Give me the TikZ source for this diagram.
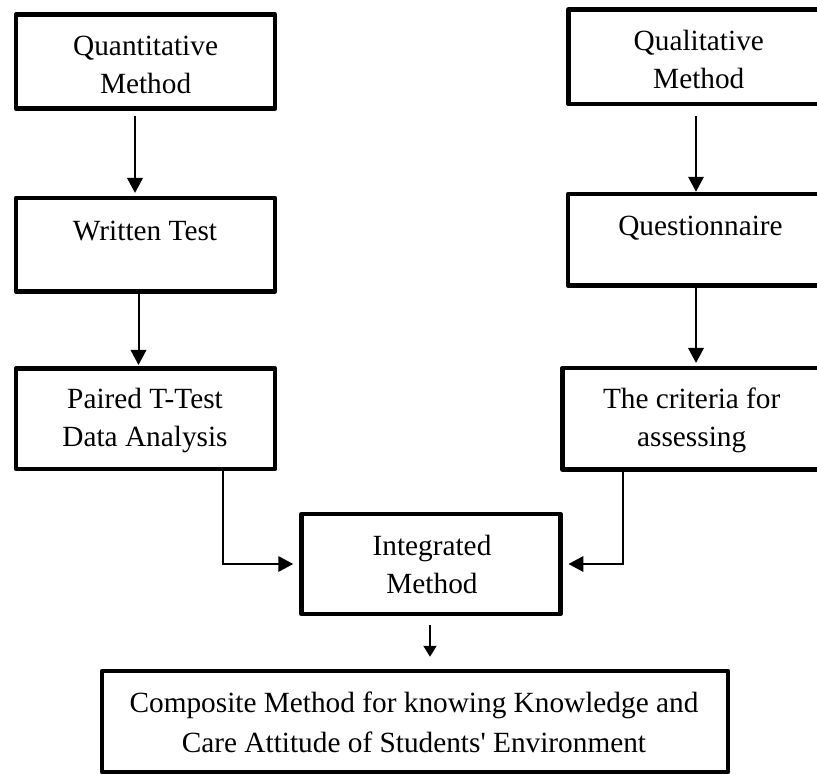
\documentclass[tikz,border=0pt]{standalone}
\usepackage{fontspec}
\setmainfont{Liberation Serif}
\usetikzlibrary{arrows.meta}
\begin{document}
\begin{tikzpicture}[x=1pt,y=-1pt,
  box/.style={draw, line width=4.5pt, line join=round, inner sep=0pt},
  txt/.style={align=center, inner sep=0pt, anchor=north, font=\fontsize{29.3pt}{38pt}\selectfont},
  arr/.style={line width=2pt, -{Triangle[length=15pt,width=15.5pt]}},
  arrs/.style={line width=2pt, -{Triangle[length=11pt,width=13pt]}}]
\clip (0,0) rectangle (817,774);
% left column
\node[box, minimum width=259pt, minimum height=94pt] (q1) at (145.5,61.7) {};
\node[box, minimum width=259pt, minimum height=93.5pt] (q2) at (145.5,244.75) {};
\node[box, minimum width=259pt, minimum height=100.5pt] (q3) at (145.5,418.75) {};
% right column
\node[box, minimum width=260.5pt, minimum height=94.5pt] (r1) at (698.75,56.75) {};
\node[box, minimum width=263pt, minimum height=91.5pt] (r2) at (699.5,239.75) {};
\node[box, minimum width=258.5pt, minimum height=101.5pt] (r3) at (691.75,418.75) {};
% bottom
\node[box, minimum width=259pt, minimum height=100pt] (ig) at (431,564) {};
\node[box, minimum width=626pt, minimum height=101pt] (cp) at (415,721.5) {};
% texts
\node[txt] (tq1) at (145.6,28.4) {Quantitative\strut\\Method\strut};
\node[txt] (tq2) at (145,214.1) {Written Test\strut};
\node[txt] (tq3) at (145,381.7) {Paired T-Test\strut\\Data Analysis\strut};
\node[txt] (tr1) at (698.8,23.4) {Qualitative\strut\\Method\strut};
\node[txt] (tr2) at (700.5,208.4) {Questionnaire\strut};
\node[txt] (tr3) at (691.7,381.7) {The criteria for\strut\\assessing\strut};
\node[txt] (tig) at (432,528.4) {Integrated\strut\\Method\strut};
\node[txt, font=\fontsize{29.3pt}{39.5pt}\selectfont] (tcp) at (414,685) {Composite Method for knowing Knowledge and\strut\\Care Attitude of Students\textquotesingle{} Environment\strut};
% connectors
\draw[arr, shorten <=5pt, shorten >=2.8pt] ([xshift=-10.5pt]q1.south) -- ([xshift=-10.5pt]q1.south |- q2.north);
\draw[arr, shorten >=1.3pt] ([xshift=-7pt]q2.south) -- ([xshift=-7pt]q2.south |- q3.north);
\draw[arr, shorten <=10pt] ([xshift=-2.75pt]r1.south) -- ([xshift=-2.75pt]r1.south |- r2.north);
\draw[arr, shorten >=2.8pt] ([xshift=-3.5pt]r2.south) -- ([xshift=-3.5pt]r2.south |- r3.north);
\draw[arr, shorten >=6pt] ([xshift=77.5pt]q3.south) |- (ig.west);
\draw[arr, shorten >=5.7pt] ([xshift=-68.75pt]r3.south) |- (ig.east);
\draw[arrs, shorten <=9pt, shorten >=12pt] ([xshift=-1pt]ig.south) -- ([xshift=-1pt]ig.south |- cp.north);
\end{tikzpicture}
\end{document}
